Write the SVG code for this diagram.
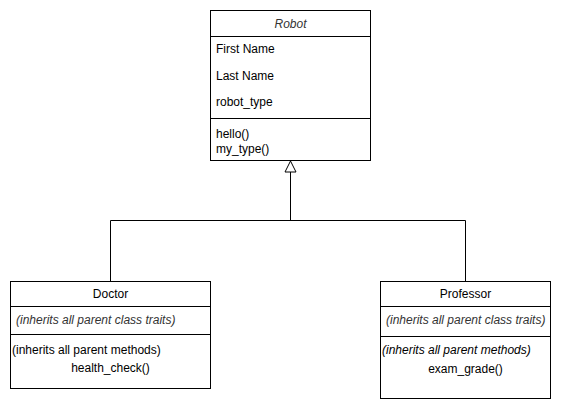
<svg xmlns="http://www.w3.org/2000/svg" width="561" height="411" viewBox="0 0 561 411">
<style>
.box{fill:#fff;stroke:#000;stroke-width:1}
.ln{fill:none;stroke:#000;stroke-width:1}
text{font-family:"Liberation Sans",Arial,sans-serif;font-size:12px;fill:#000}
.it{font-style:italic;fill:#333}
.c{text-anchor:middle}
</style>
<rect width="561" height="411" fill="#fff"/>
<g id="connectors">
<polyline class="ln" points="110.5,281 110.5,220.5 465.5,220.5 465.5,281"/>
<line class="ln" x1="290.5" y1="220.5" x2="290.5" y2="172"/>
<polygon points="290.5,161 296,172 285,172" fill="#fff" stroke="#000"/>
</g>
<g id="robot">
<rect class="box" x="210.5" y="10.5" width="160" height="150"/>
<line class="ln" x1="210.5" y1="36.5" x2="370.5" y2="36.5"/>
<line class="ln" x1="210.5" y1="118.5" x2="370.5" y2="118.5"/>
<text class="c it" x="290.5" y="28">Robot</text>
<text x="216" y="53">First Name</text>
<text x="216" y="80">Last Name</text>
<text x="216" y="106">robot_type</text>
<text x="216" y="138">hello()</text>
<text x="216" y="153">my_type()</text>
</g>
<g id="doctor">
<rect class="box" x="10.5" y="281.5" width="200" height="107"/>
<line class="ln" x1="10.5" y1="306.5" x2="210.5" y2="306.5"/>
<line class="ln" x1="10.5" y1="334.5" x2="210.5" y2="334.5"/>
<text class="c" x="110.5" y="298">Doctor</text>
<text class="it" x="16" y="324">(inherits all parent class traits)</text>
<text x="12" y="354">(inherits all parent methods)</text>
<text class="c" x="110.5" y="372">health_check()</text>
</g>
<g id="professor">
<rect class="box" x="380.5" y="281.5" width="170" height="117"/>
<line class="ln" x1="380.5" y1="306.5" x2="550.5" y2="306.5"/>
<line class="ln" x1="380.5" y1="336.5" x2="550.5" y2="336.5"/>
<text class="c" x="465.5" y="298">Professor</text>
<text class="it" x="386" y="324">(inherits all parent class traits)</text>
<text class="it" x="382" y="354" style="fill:#000">(inherits all parent methods)</text>
<text class="c" x="465.5" y="373">exam_grade()</text>
</g>
</svg>
